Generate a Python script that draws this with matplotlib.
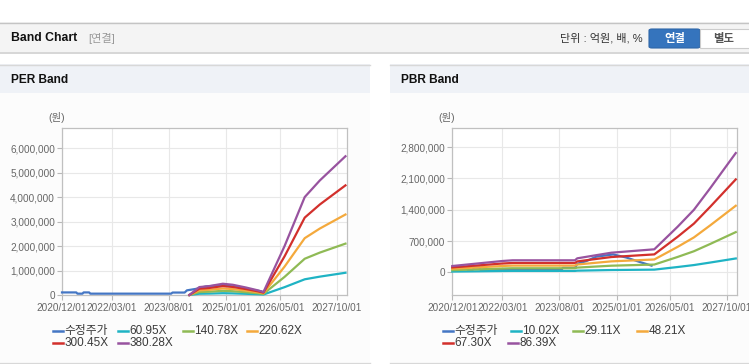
import matplotlib
matplotlib.use("Agg")
import matplotlib.pyplot as plt
import numpy as np
import pandas as pd
from matplotlib.patches import Rectangle, FancyBboxPatch
from matplotlib.lines import Line2D
from matplotlib.ticker import FuncFormatter

plt.rcParams['font.family'] = ['Liberation Sans', 'Noto Sans CJK KR']

# ---- data ----
price_dates = ['2020-12-01', '2021-04-10', '2021-04-20', '2021-06-05', '2021-06-15',
               '2021-08-05', '2021-08-15', '2023-08-20', '2023-09-01', '2023-12-20',
               '2024-01-10', '2024-04-01', '2024-07-01', '2024-12-01', '2025-04-01',
               '2025-08-01', '2025-11-15']
price = [105000, 105000, 55000, 55000, 105000, 105000, 55000, 55000, 100000, 100000,
         190000, 250000, 350000, 400000, 330000, 230000, 150000]

eps_dates = ['2024-02-01', '2024-05-01', '2024-08-01', '2024-12-01', '2025-03-01',
             '2025-07-01', '2025-10-15', '2025-12-05', '2026-06-15', '2026-12-15',
             '2027-05-01', '2027-12-20']
eps = [0, 850, 960, 1210, 1100, 800, 500, 320, 5260, 10520, 12300, 14900]
per_multiples = [60.95, 140.78, 220.62, 300.45, 380.28]

bps_dates = ['2020-12-01', '2022-03-01', '2022-06-01', '2023-12-20', '2024-01-10',
             '2024-06-01', '2024-11-15', '2025-12-10', '2026-07-10', '2026-12-05',
             '2027-05-01', '2027-12-20']
bps = [1630, 2930, 3110, 3110, 3620, 4300, 5080, 5960, 11810, 16200, 21760, 30900]
pbr_multiples = [10.02, 29.11, 48.21, 67.30, 86.39]

xtick_labels = ['2020/12/01', '2022/03/01', '2023/08/01', '2025/01/01', '2026/05/01', '2027/10/01']
per_yticks = [0, 1000000, 2000000, 3000000, 4000000, 5000000, 6000000]
pbr_yticks = [0, 700000, 1400000, 2100000, 2800000]

price_label = '수정주가'
band_colors = ['#1fb3c4', '#8fba55', '#f4a93c', '#d2302c', '#98539f']
price_color = '#4476c4'

W, H = 749, 364
fig = plt.figure(figsize=(W / 100, H / 100), dpi=100)
fig.patch.set_facecolor('white')


def fx(x):
    return x / W


def fy(y):
    return 1 - y / H


def box(x, y, w, h, color, z=0):
    fig.add_artist(Rectangle((fx(x), fy(y + h)), w / W, h / H, transform=fig.transFigure,
                             facecolor=color, edgecolor='none', zorder=z))


def hline(x0, x1, y, color, lw=1.0):
    fig.add_artist(Line2D([fx(x0), fx(x1)], [fy(y), fy(y)], transform=fig.transFigure,
                          color=color, lw=lw, zorder=1))


# top header band
box(0, 22, W, 30, '#f4f4f4')
hline(0, W, 22.5, '#c4c4c4')
hline(0, W, 52.5, '#d0d0d0', 1.2)
fig.text(fx(11), fy(38), 'Band Chart', fontsize=8.8, fontweight='bold', color='#111111', va='center')
fig.text(fx(88), fy(38), '[연결]', fontsize=8, color='#999999', va='center')
fig.text(fx(643), fy(38), '단위 : 억원, 배, %', fontsize=8, color='#333333', va='center', ha='right')
fig.add_artist(FancyBboxPatch((fx(649), fy(48)), 51 / W, 19 / H, boxstyle='round,pad=0,rounding_size=0.004',
                              transform=fig.transFigure, facecolor='#3574bd', edgecolor='#2f66a8', lw=0.8, zorder=2))
fig.add_artist(Rectangle((fx(700), fy(48)), 50 / W, 19 / H, transform=fig.transFigure,
                         facecolor='white', edgecolor='#cccccc', lw=0.8, zorder=2))
fig.text(fx(674.5), fy(38.5), '연결', fontsize=8.2, fontweight='bold', color='white', va='center', ha='center', zorder=3)
fig.text(fx(724), fy(38.5), '별도', fontsize=8.2, fontweight='bold', color='#555555', va='center', ha='center', zorder=3)

# panel frames
for px0, px1, title in [(0, 370, 'PER Band'), (390, W, 'PBR Band')]:
    box(px0, 64, px1 - px0, 29, '#eff2f7')
    box(px0, 93, px1 - px0, 269, '#fcfcfc')
    hline(px0, px1, 64.5, '#d8d8d8')
    hline(px0, px1, 362.5, '#d8d8d8')
    fig.text(fx(px0 + 11), fy(80), title, fontsize=8.6, fontweight='bold', color='#111111', va='center')

xlim = (pd.Timestamp('2020-12-01'), pd.Timestamp('2028-01-03'))
xticks = [pd.Timestamp(t.replace('/', '-')) for t in xtick_labels]


def setup(ax, yticks, ylim):
    ax.set_facecolor('white')
    ax.set_xlim(xlim)
    ax.set_ylim(ylim)
    ax.set_xticks(xticks)
    ax.set_xticklabels(xtick_labels)
    ax.set_yticks(yticks)
    ax.yaxis.set_major_formatter(FuncFormatter(lambda v, p: f'{v:,.0f}'))
    ax.grid(True, color='#e8e8e8', lw=0.8)
    ax.set_axisbelow(True)
    for s in ax.spines.values():
        s.set_color('#c0c0c0')
        s.set_linewidth(0.9)
    ax.tick_params(axis='both', colors='#b8b8b8', labelcolor='#666666', labelsize=7.2,
                   length=3.5, width=0.8)
    ax.tick_params(axis='y', pad=1.5)
    ax.tick_params(axis='x', pad=2)


def draw(ax, base_dates, base, multiples):
    d = pd.to_datetime(base_dates)
    ax.plot(pd.to_datetime(price_dates), price, color=price_color, lw=1.6, zorder=3, clip_on=False)
    for m, c in zip(multiples, band_colors):
        ax.plot(d, np.array(base) * m, color=c, lw=1.6, zorder=4, clip_on=False)


ax1 = fig.add_axes([fx(62), fy(295), 285 / W, 167 / H])
setup(ax1, per_yticks, (0, 6820000))
draw(ax1, eps_dates, eps, per_multiples)

ax2 = fig.add_axes([fx(452.3), fy(295), 285 / W, 167 / H])
setup(ax2, pbr_yticks, (-508000, 3230000))
draw(ax2, bps_dates, bps, pbr_multiples)

fig.text(fx(57), fy(118), '(원)', fontsize=7.5, color='#666666', va='center', ha='center')
fig.text(fx(447), fy(118), '(원)', fontsize=7.5, color='#666666', va='center', ha='center')


# legends
def legend(entries, positions):
    for (label, color), (x, y) in zip(entries, positions):
        fig.add_artist(Line2D([fx(x), fx(x + 10)], [fy(y), fy(y)], transform=fig.transFigure,
                              color=color, lw=1.8, zorder=3))
        fig.text(fx(x + 11.5), fy(y), label, fontsize=8.5, color='#3a3a3a', va='center', zorder=3)


per_entries = [(price_label, price_color)] + [(f'{m:.2f}X', c) for m, c in zip(per_multiples, band_colors)]
pbr_entries = [(price_label, price_color)] + [(f'{m:.2f}X', c) for m, c in zip(pbr_multiples, band_colors)]
legend(per_entries, [(53.3, 330.7), (118.3, 330.7), (182.7, 330.7), (247.3, 330.7),
                     (53.3, 343.3), (118.3, 343.3)])
legend(pbr_entries, [(442.7, 330.7), (511, 330.7), (572.7, 330.7), (637.3, 330.7),
                     (442.7, 343.3), (507.7, 343.3)])

fig.savefig('out.png', dpi=100, facecolor='white')
